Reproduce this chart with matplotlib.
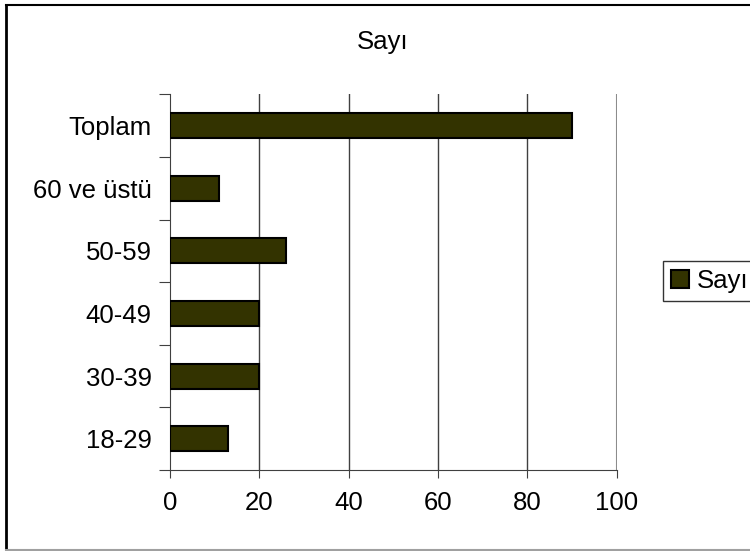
import matplotlib.pyplot as plt
import numpy as np
from matplotlib.lines import Line2D

plt.rcParams['font.family'] = ['Liberation Sans', 'DejaVu Sans']

gruplar = ['18-29', '30-39', '40-49', '50-59', '60 ve üstü', 'Toplam']
sayi = [13, 20, 20, 26, 11, 90]
x_ticks = [0, 20, 40, 60, 80, 100]

FS = 18.5

fig = plt.figure(figsize=(7.5, 5.51), dpi=100)
ax = fig.add_axes([169.7 / 750, 81 / 551, 447 / 750, 375.6 / 551])

y = np.arange(len(gruplar))
ax.barh(y, sayi, height=0.4, color='#333300', edgecolor='black', linewidth=1.5,
        zorder=3, label='Sayı')

ax.set_xlim(0, 100)
ax.set_ylim(-0.5, len(gruplar) - 0.5)

# dikey kılavuz çizgileri
for t in x_ticks[1:]:
    ax.axvline(t, color='#8c8c8c' if t == 100 else '#404040',
               linewidth=1.5 if t == 100 else 1, zorder=1)

ax.set_xticks(x_ticks)
ax.tick_params(axis='x', direction='out', length=6, labelsize=FS, pad=9, color='#404040')

# kategori etiketleri ortada, çentikler sınırlarda
ax.set_yticks(np.arange(-0.5, len(gruplar)), labels=[''] * (len(gruplar) + 1))
ax.set_yticks(y, labels=gruplar, minor=True)
ax.tick_params(axis='y', which='major', direction='out', length=8, color='#404040')
ax.tick_params(axis='y', which='minor', length=0, labelsize=FS, pad=13)

for s in ['top', 'right']:
    ax.spines[s].set_visible(False)
ax.spines['left'].set_color('#404040')
ax.spines['bottom'].set_color('#404040')

fig.text(383 / 750, 1 - 42 / 551, 'Sayı', ha='center', va='center', fontsize=FS)

leg = fig.legend(loc='center left', bbox_to_anchor=(663 / 750, 1 - 281 / 551),
                 fontsize=FS, frameon=True, fancybox=False, handlelength=0.7,
                 handleheight=0.7, handletextpad=0.3, borderpad=0.3,
                 borderaxespad=0)
leg.get_frame().set_edgecolor('black')
leg.get_frame().set_linewidth(1)

# grafik alanı çerçevesi
fig.add_artist(Line2D([6 / 750, 6 / 750], [1 / 551, 1 - 5 / 551], color='black', linewidth=2))
fig.add_artist(Line2D([6 / 750, 1], [1 - 5 / 551, 1 - 5 / 551], color='black', linewidth=1.5))
fig.add_artist(Line2D([6 / 750, 1], [1 / 551, 1 / 551], color='#a0a0a0', linewidth=1.5))

fig.savefig('out.png', dpi=100)
